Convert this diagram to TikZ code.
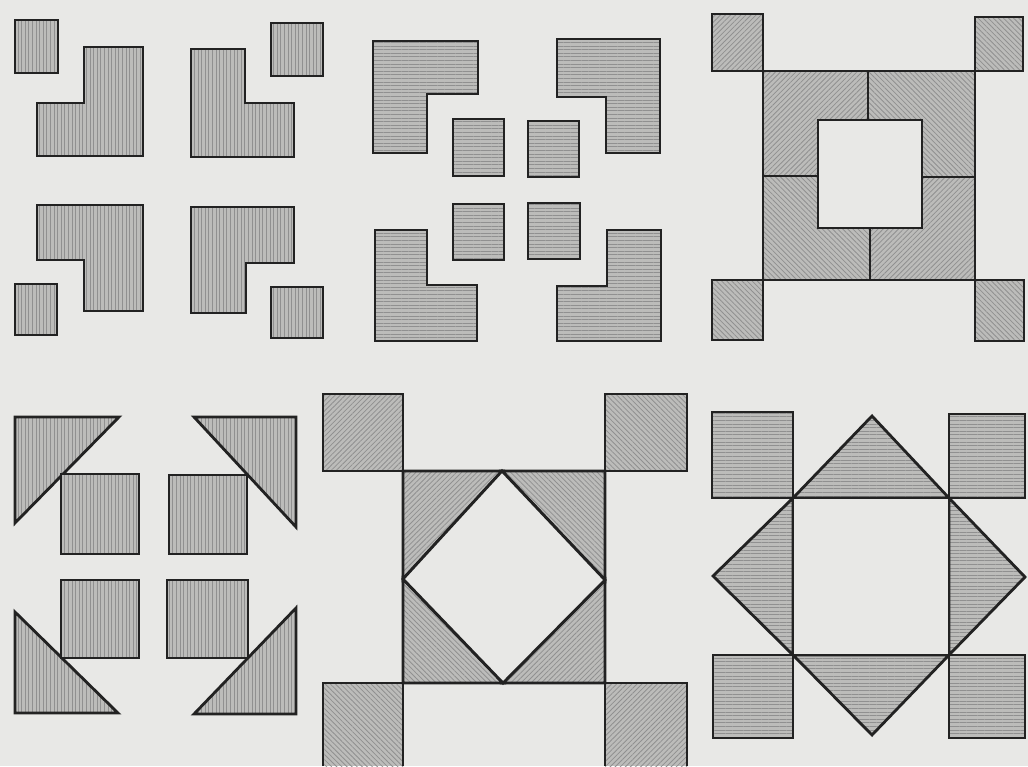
\documentclass[tikz,border=0pt]{standalone}
\usepackage{tikz}
\usetikzlibrary{patterns.meta}
\definecolor{paper}{HTML}{E8E8E6}
\definecolor{cloth}{HTML}{BCBCBA}
\definecolor{ink}{HTML}{222222}
\newcommand{\hatchgap}{3.6pt}
\newcommand{\hatchwd}{0.8pt}
\newcommand{\edgewd}{2.8pt}
\tikzset{
  patch/.style={draw=ink, line width=\edgewd, line join=miter,
    preaction={fill=cloth}, pattern color=ink!50},
  vhatch/.style={patch,
    pattern={Lines[angle=90,distance=\hatchgap,line width=\hatchwd]}},
  hhatch/.style={patch,
    pattern={Lines[angle=0,distance=\hatchgap,line width=\hatchwd]}},
  nehatch/.style={patch,
    pattern={Lines[angle=45,distance=\hatchgap,line width=\hatchwd]}},
  nwhatch/.style={patch,
    pattern={Lines[angle=-45,distance=\hatchgap,line width=\hatchwd]}},
  hole/.style={draw=ink, line width=\edgewd, fill=paper}
}
\begin{document}
\begin{tikzpicture}[x=1pt,y=-1pt]
    \fill[paper] (0,0) rectangle (1028,766);
    \useasboundingbox (0,0) rectangle (1028,766);

    % first block: corner squares and ells
    \begin{scope}
      \draw[vhatch] (15,20) rectangle (58,73);
      \draw[vhatch] (84,47) -- (143,47) -- (143,156) -- (37,156)
        -- (37,103) -- (84,103) -- cycle;
      \draw[vhatch] (191,49) -- (245,49) -- (245,103) -- (294,103)
        -- (294,157) -- (191,157) -- cycle;
      \draw[vhatch] (271,23) rectangle (323,76);
      \draw[vhatch] (37,205) -- (143,205) -- (143,311) -- (84,311)
        -- (84,260) -- (37,260) -- cycle;
      \draw[vhatch] (15,284) rectangle (57,335);
      \draw[vhatch] (191,207) -- (294,207) -- (294,263) -- (246,263)
        -- (246,313) -- (191,313) -- cycle;
      \draw[vhatch] (271,287) rectangle (323,338);
    \end{scope}

    % second block: ells round four squares
    \begin{scope}
      \draw[hhatch] (373,41) -- (478,41) -- (478,94) -- (427,94)
        -- (427,153) -- (373,153) -- cycle;
      \draw[hhatch] (557,39) -- (660,39) -- (660,153) -- (606,153)
        -- (606,97) -- (557,97) -- cycle;
      \draw[hhatch] (453,119) rectangle (504,176);
      \draw[hhatch] (528,121) rectangle (579,177);
      \draw[hhatch] (453,204) rectangle (504,260);
      \draw[hhatch] (528,203) rectangle (580,259);
      \draw[hhatch] (375,230) -- (427,230) -- (427,285) -- (477,285)
        -- (477,341) -- (375,341) -- cycle;
      \draw[hhatch] (607,230) -- (661,230) -- (661,341) -- (557,341)
        -- (557,286) -- (607,286) -- cycle;
    \end{scope}

    % third block: frame round an open square
    \begin{scope}
      \draw[nehatch] (712,14) rectangle (763,71);
      \draw[nwhatch] (975,17) rectangle (1023,71);
      \draw[nwhatch] (712,280) rectangle (763,340);
      \draw[nwhatch] (975,280) rectangle (1024,341);
      \draw[nehatch] (763,71) -- (868,71) -- (868,120) -- (818,120)
        -- (818,176) -- (763,176) -- cycle;
      \draw[nwhatch] (868,71) -- (975,71) -- (975,177) -- (922,177)
        -- (922,120) -- (868,120) -- cycle;
      \draw[nwhatch] (763,176) -- (818,176) -- (818,228) -- (870,228)
        -- (870,280) -- (763,280) -- cycle;
      \draw[nehatch] (922,177) -- (975,177) -- (975,280) -- (870,280)
        -- (870,228) -- (922,228) -- cycle;
      \draw[hole] (818,120) rectangle (922,228);
    \end{scope}

    % fourth block: triangles and four squares
    \begin{scope}
      \draw[vhatch] (15,417) -- (119,417) -- (15,523) -- cycle;
      \draw[vhatch] (194,417) -- (296,417) -- (296,527) -- cycle;
      \draw[vhatch] (15,612) -- (118,713) -- (15,713) -- cycle;
      \draw[vhatch] (296,608) -- (296,714) -- (194,714) -- cycle;
      \draw[vhatch] (61,474) rectangle (139,554);
      \draw[vhatch] (169,475) rectangle (247,554);
      \draw[vhatch] (61,580) rectangle (139,658);
      \draw[vhatch] (167,580) rectangle (248,658);
    \end{scope}

    % fifth block: diamond in a square
    \begin{scope}
      \draw[nehatch] (323,394) rectangle (403,471);
      \draw[nwhatch] (605,394) rectangle (687,471);
      \draw[nehatch] (403,471) -- (502,471) -- (403,579) -- cycle;
      \draw[nwhatch] (502,471) -- (605,471) -- (605,580) -- cycle;
      \draw[nwhatch] (403,579) -- (503,683) -- (403,683) -- cycle;
      \draw[nehatch] (605,580) -- (605,683) -- (503,683) -- cycle;
      \draw[hole] (502,471) -- (605,580) -- (503,683) -- (403,579) -- cycle;
      % bottom squares run off the page
      \fill[cloth] (323,683) rectangle (403,766);
      \fill[pattern={Lines[angle=-45,distance=\hatchgap,line width=\hatchwd]},
        pattern color=ink!50] (323,683) rectangle (403,766);
      \draw[draw=ink, line width=\edgewd] (323,766) -- (323,683) -- (403,683) -- (403,766);
      \fill[cloth] (605,683) rectangle (687,766);
      \fill[pattern={Lines[angle=45,distance=\hatchgap,line width=\hatchwd]},
        pattern color=ink!50] (605,683) rectangle (687,766);
      \draw[draw=ink, line width=\edgewd] (605,766) -- (605,683) -- (687,683) -- (687,766);
    \end{scope}

    % sixth block: square with triangles on its sides
    \begin{scope}
      \draw[hhatch] (712,412) rectangle (793,498);
      \draw[hhatch] (949,414) rectangle (1025,498);
      \draw[hhatch] (713,655) rectangle (793,738);
      \draw[hhatch] (949,655) rectangle (1025,738);
      \draw[hhatch] (793,498) -- (872,416) -- (949,498) -- cycle;
      \draw[hhatch] (793,498) -- (713,576) -- (793,655) -- cycle;
      \draw[hhatch] (949,498) -- (1025,577) -- (949,655) -- cycle;
      \draw[hhatch] (793,655) -- (872,735) -- (949,655) -- cycle;
      \draw[hole] (793,498) rectangle (949,655);
    \end{scope}
  \end{tikzpicture}
\end{document}
